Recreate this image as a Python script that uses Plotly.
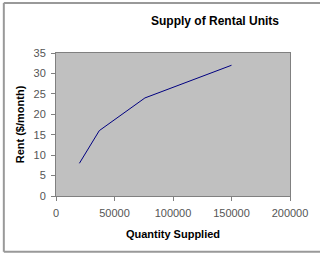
import plotly.graph_objects as go

quantity = [20000, 37000, 76000, 150000]
rent = [8, 16, 24, 32]
x_ticks = [0, 50000, 100000, 150000, 200000]
y_ticks = [0, 5, 10, 15, 20, 25, 30, 35]

fig = go.Figure()
fig.add_trace(go.Scatter(x=quantity, y=rent, mode="lines",
                         line=dict(color="#000080", width=1)))

font = "Liberation Sans, Arial, sans-serif"
fig.update_layout(
    width=320, height=254,
    margin=dict(l=56, r=26, t=53, b=58),
    paper_bgcolor="white", plot_bgcolor="#c0c0c0",
    showlegend=False,
    title=dict(text="<b>Supply of Rental Units</b>", x=0.672, xanchor="center",
               y=0.918, yanchor="middle",
               font=dict(family=font, size=12, color="black")),
    xaxis=dict(range=[0, 200000], tickvals=x_ticks, ticktext=[str(v) for v in x_ticks],
               showgrid=False, zeroline=False, showline=True, linecolor="#808080",
               linewidth=1, mirror=True, ticks="outside", ticklen=4, tickcolor="#808080",
               ticklabelstandoff=3,
               tickfont=dict(family=font, size=11, color="#555"),
               title=dict(text="<b>Quantity Supplied</b>", standoff=12,
                          font=dict(family=font, size=11, color="black"))),
    yaxis=dict(range=[0, 35], tickvals=y_ticks,
               showgrid=False, zeroline=False, showline=True, linecolor="#808080",
               linewidth=1, mirror=True, ticks="outside", ticklen=4, tickcolor="#808080",
               ticklabelstandoff=3,
               tickfont=dict(family=font, size=11, color="#555"),
               title=dict(text="<b>Rent ($/month)</b>", standoff=6,
                          font=dict(family=font, size=11, color="black"))),
)
border = dict(color="#999999", width=2)
for x0, y0, x1, y1 in [(-0.223, 1.35, 1.2, 1.35), (-0.223, -0.39, 1.2, -0.39),
                       (-0.223, -0.39, -0.223, 1.35)]:
    fig.add_shape(type="line", xref="paper", yref="paper", x0=x0, y0=y0, x1=x1, y1=y1,
                  line=border, layer="above")
fig.write_html("out.html")
